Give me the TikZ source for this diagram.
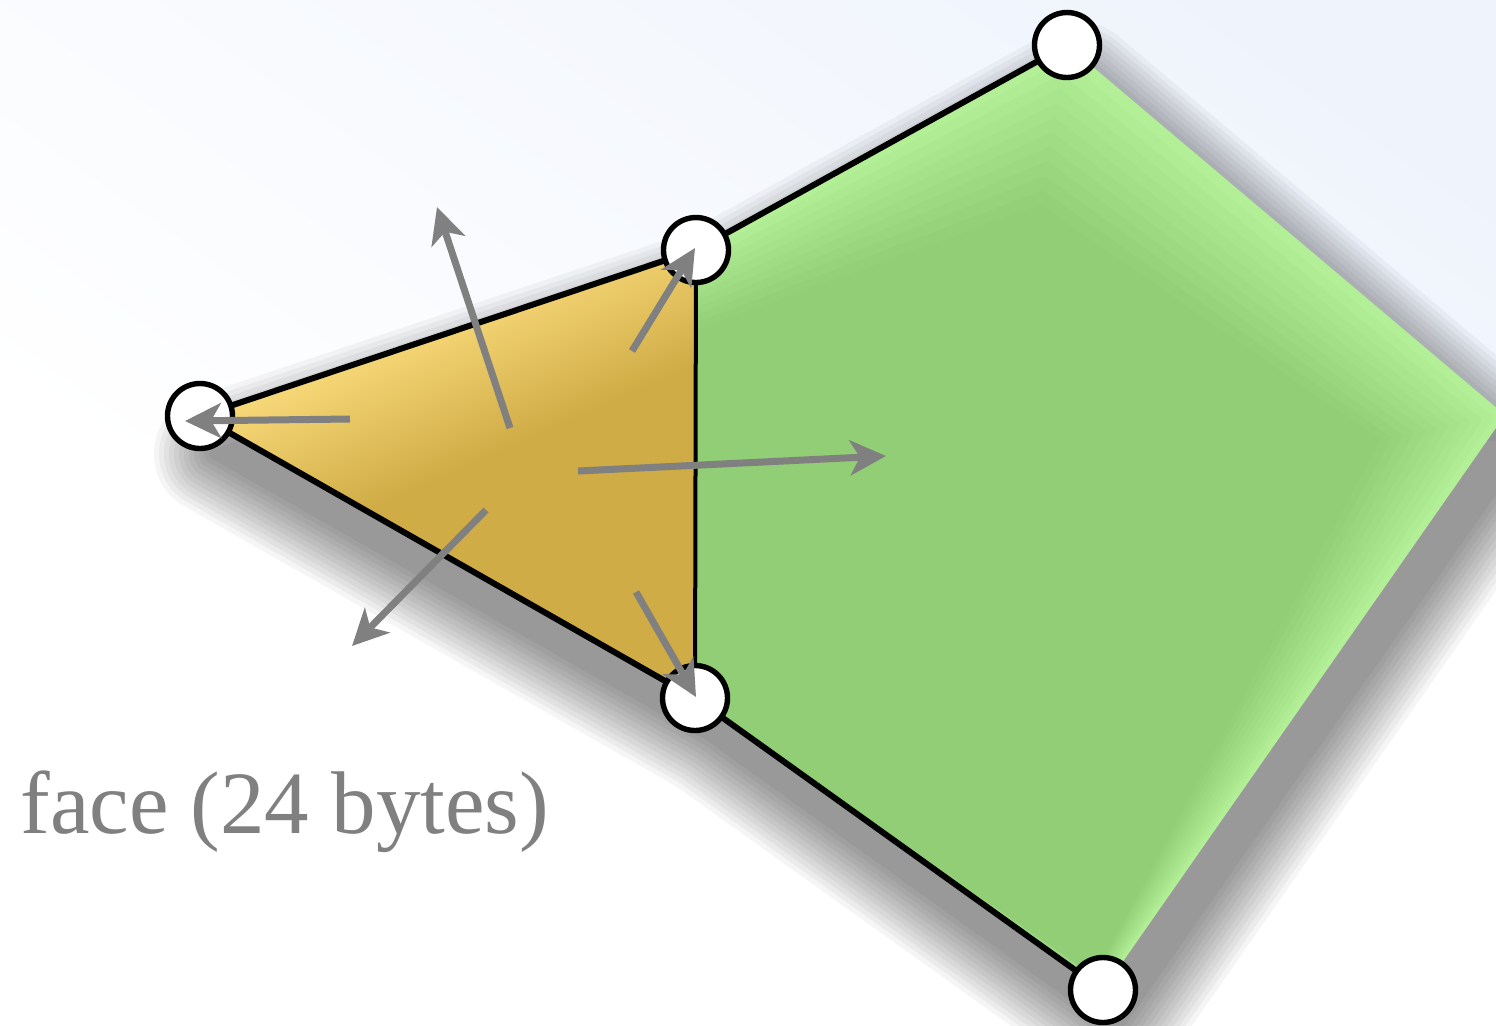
\documentclass[tikz,border=0pt]{standalone}
\usepackage{fontspec}
\newfontfamily\labelfont{Liberation Serif}
\usetikzlibrary{arrows.meta,calc}
\definecolor{gLight}{RGB}{182,242,154}
\definecolor{gDark}{RGB}{146,206,117}
\definecolor{yLight}{RGB}{247,216,120}
\definecolor{yDark}{RGB}{208,172,70}
\definecolor{arrowgray}{RGB}{128,128,128}
\definecolor{bgblue}{RGB}{238,243,252}
\pgfdeclareverticalshading{yelshade}{100bp}{color(0bp)=(yDark); color(50bp)=(yDark); color(58bp)=(yLight!50!yDark); color(66bp)=(yLight); color(100bp)=(yLight)}
\begin{document}
\begin{tikzpicture}[x=0.5pt,y=-0.5pt,
  vertex/.style={circle, draw=black, fill=white, line width=2.7pt, minimum size=32.5pt, inner sep=0pt},
  edgeline/.style={draw=black, line width=3pt, line cap=round},
  midline/.style={draw=black, line width=2pt},
  normalarrow/.style={draw=arrowgray, line width=3.5pt, -{Stealth[length=18pt,width=17.5pt,inset=5pt]}},
  shadowlayer/.style={draw=black, fill=black, line join=round}]
\useasboundingbox (0,0) rectangle (1496,1025);
\clip (0,0) rectangle (1496,1025);
% background
\fill[white] (0,0) rectangle (1496,1025);
\shade[top color=bgblue, bottom color=white, shading angle=-35] (-300,-150) rectangle (1500,440);

% polygon corners
\coordinate (pA) at (200,416);
\coordinate (pB) at (696,250);
\coordinate (pC) at (695,698);
\coordinate (pD) at (1067,45);
\coordinate (pE) at (1103,990);
\coordinate (pR) at (1505,415);
% inner (dark) corners of the green face
\coordinate (iB) at (696,330);
\coordinate (iD) at (1040,205);
\coordinate (iR) at (1380,440);
\coordinate (iE) at (1094,975);
\coordinate (iC) at (695,698);

% blurred drop shadow
\foreach \w in {60pt,55pt,50pt,45pt,40pt,35pt,30pt,25pt,20pt,15pt,10pt,5pt}{
  \begin{scope}[transparency group, opacity=0.038]
  \path[shadowlayer, line width=\w]
    ($(pA)+(14,38)$) -- ($(pB)+(14,38)$) -- ($(pD)+(14,38)$) -- ($(pR)+(14,38)$)
    -- ($(pE)+(14,38)$) -- ($(pC)+(14,38)$) -- cycle;
  \end{scope}
}

% green face with light rim
\fill[gLight] (pB) -- (pD) -- (pR) -- (pE) -- (pC) -- cycle;
\foreach \t/\o in {0.0/0.0833,0.0909/0.0909,0.1818/0.1,0.2727/0.1111,0.3636/0.125,0.4545/0.1429,0.5454/0.1667,0.6363/0.2,0.7272/0.25,0.8181/0.3333,0.9090/0.5,1.0/1.0}{
  \fill[gDark, opacity=\o] ($(pB)!\t!(iB)$) -- ($(pD)!\t!(iD)$) -- ($(pR)!\t!(iR)$)
    -- ($(pE)!\t!(iE)$) -- ($(pC)!\t!(iC)$) -- cycle;
}

% yellow triangle
\shade[shading=yelshade, shading angle=24] (pA) -- (pB) -- (pC) -- cycle;

% edges
\draw[edgeline] (pA) -- (pB) -- (pD);
\draw[edgeline] (pA) -- (pC) -- (pE);
\draw[midline] (pB) -- (pC);

% vertices
\node[vertex] (A) at (pA) {};
\node[vertex] (B) at (pB) {};
\node[vertex] (C) at (pC) {};
\node[vertex] (D) at (pD) {};
\node[vertex] (E) at (pE) {};

% normals
\coordinate (n1s) at (350,419);  \coordinate (n1e) at (185,421);
\coordinate (n2s) at (510,428);  \coordinate (n2e) at (437,207);
\coordinate (n3s) at (632,351);  \coordinate (n3e) at (695,248);
\coordinate (n4s) at (578,471);  \coordinate (n4e) at (886,456);
\coordinate (n5s) at (486,510);  \coordinate (n5e) at (352,646);
\coordinate (n6s) at (636,592);  \coordinate (n6e) at (696,697);
\draw[normalarrow] (n1s) -- (n1e);
\draw[normalarrow] (n2s) -- (n2e);
\draw[normalarrow] (n3s) -- (n3e);
\draw[normalarrow] (n4s) -- (n4e);
\draw[normalarrow] (n5s) -- (n5e);
\draw[normalarrow] (n6s) -- (n6e);

% label
\node[anchor=base west, inner sep=0pt, text=arrowgray, font=\labelfont\fontsize{44.5pt}{50pt}\selectfont] (lbl) at (20,833) {face (24 bytes)};
\end{tikzpicture}
\end{document}
